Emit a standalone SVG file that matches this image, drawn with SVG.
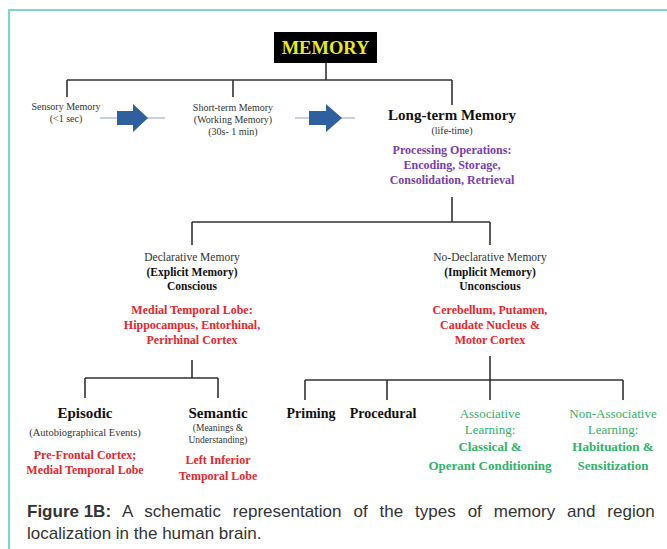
<svg xmlns="http://www.w3.org/2000/svg" width="667" height="549" viewBox="0 0 667 549">
<style>
.t{font-family:"Liberation Serif","Times New Roman",serif;text-anchor:middle;fill:#333}
.s{font-size:10px}
.m{font-size:11.5px}
.b{font-weight:bold;fill:#111}
.r{fill:#e8262b;font-weight:bold;font-size:12px}
.p{fill:#7a3db0;font-weight:bold;font-size:12px}
.g{fill:#2fb36a;font-size:13px}
.gb{fill:#2fb36a;font-size:13px;font-weight:bold}
.h{font-size:15px;font-weight:bold;fill:#111}
.ln{stroke:#333;stroke-width:1.6;fill:none}
.cap{font-family:"Liberation Sans",Arial,sans-serif;font-size:17px;fill:#333}
</style>
<rect width="667" height="549" fill="#fff"/>
<path d="M9 549 V10 H667" fill="none" stroke="#7fd6c8" stroke-width="2.2"/>

<g id="connectors" class="ln">
<path d="M326 63 V80 M67 80 H452 M67 80 V97 M233 80 V97 M452 80 V105"/>
<path d="M452 197 V222 M192 222 H490 M192 222 V245 M490 222 V245"/>
<path d="M192 360 V378 M85 378 H218 M85 378 V398 M218 378 V398"/>
<path d="M490 356 V380 M305 380 H623 M305 380 V400 M387 380 V400 M490 380 V400 M623 380 V400"/>
</g>

<g id="arrow1">
<line x1="100" y1="118" x2="165" y2="118" stroke="#b5c3d3" stroke-width="1.5"/>
<path d="M117 111 H133 V104 L148 118 L133 132 V125 H117 Z" fill="#2e5f9f"/>
</g>
<g id="arrow2">
<line x1="295" y1="118" x2="355" y2="118" stroke="#b5c3d3" stroke-width="1.5"/>
<path d="M309 111 H326 V104 L342 118 L326 132 V125 H309 Z" fill="#2e5f9f"/>
</g>

<g id="memory">
<rect x="274" y="32" width="103" height="31" fill="#000"/>
<text x="325.5" y="54" class="t" style="font-size:18.5px;font-weight:bold;fill:#e9e91a">MEMORY</text>
</g>

<g id="sensory">
<text x="66" y="110" class="t s">Sensory Memory</text>
<text x="66" y="122" class="t s">(&lt;1 sec)</text>
</g>

<g id="shortterm">
<text x="233" y="111" class="t s">Short-term Memory</text>
<text x="233" y="123" class="t s">(Working Memory)</text>
<text x="233" y="135" class="t s">(30s- 1 min)</text>
</g>

<g id="longterm">
<text x="452" y="120" class="t b" style="font-size:15px">Long-term Memory</text>
<text x="452" y="134" class="t s">(life-time)</text>
<text x="452" y="154" class="t p">Processing Operations:</text>
<text x="452" y="169" class="t p">Encoding,  Storage,</text>
<text x="452" y="184" class="t p">Consolidation,  Retrieval</text>
</g>

<g id="declarative">
<text x="192" y="261" class="t m">Declarative  Memory</text>
<text x="192" y="276" class="t m b">(Explicit  Memory)</text>
<text x="192" y="290" class="t m b">Conscious</text>
<text x="192" y="314" class="t r">Medial Temporal  Lobe:</text>
<text x="192" y="329" class="t r">Hippocampus, Entorhinal,</text>
<text x="192" y="344" class="t r">Perirhinal Cortex</text>
</g>

<g id="nondeclarative">
<text x="490" y="261" class="t m">No-Declarative  Memory</text>
<text x="490" y="276" class="t m b">(Implicit  Memory)</text>
<text x="490" y="290" class="t m b">Unconscious</text>
<text x="490" y="314" class="t r">Cerebellum,  Putamen,</text>
<text x="490" y="329" class="t r">Caudate  Nucleus &amp;</text>
<text x="490" y="344" class="t r">Motor Cortex</text>
</g>

<g id="episodic">
<text x="85" y="418" class="t h">Episodic</text>
<text x="85" y="436" class="t" style="font-size:10.5px">(Autobiographical Events)</text>
<text x="85" y="459" class="t r">Pre-Frontal   Cortex;</text>
<text x="85" y="474" class="t r">Medial Temporal   Lobe</text>
</g>

<g id="semantic">
<text x="218" y="418" class="t h">Semantic</text>
<text x="218" y="431" class="t" style="font-size:9.5px">(Meanings &amp;</text>
<text x="218" y="443" class="t" style="font-size:9.5px">Understanding)</text>
<text x="218" y="464" class="t r">Left Inferior</text>
<text x="218" y="480" class="t r">Temporal   Lobe</text>
</g>

<g id="priming">
<text x="311" y="418" class="t b" style="font-size:14px">Priming</text>
</g>
<g id="procedural">
<text x="383" y="418" class="t b" style="font-size:14px">Procedural</text>
</g>

<g id="associative">
<text x="490" y="418" class="t g">Associative</text>
<text x="490" y="434" class="t g">Learning:</text>
<text x="490" y="451" class="t gb">Classical &amp;</text>
<text x="490" y="470" class="t gb">Operant Conditioning</text>
</g>

<g id="nonassociative">
<text x="613" y="418" class="t g">Non-Associative</text>
<text x="613" y="434" class="t g">Learning:</text>
<text x="613" y="451" class="t gb">Habituation &amp;</text>
<text x="613" y="470" class="t gb">Sensitization</text>
</g>

<g id="caption">
<text x="27" y="517" class="cap" word-spacing="7.2"><tspan font-weight="bold" word-spacing="0">Figure 1B:</tspan> A schematic representation of the types of memory and region</text>
<text x="27" y="539" class="cap">localization in the human brain.</text>
</g>
</svg>
